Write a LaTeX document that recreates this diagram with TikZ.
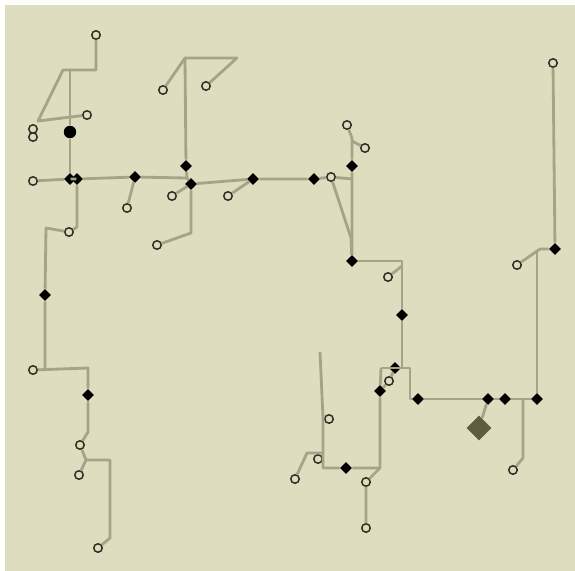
\documentclass[tikz,border=0pt]{standalone}
\usetikzlibrary{shapes.geometric}
\definecolor{sand}{RGB}{223,221,192}
\definecolor{pipe}{RGB}{166,164,134}
\definecolor{ink}{RGB}{45,45,35}
\definecolor{moss}{RGB}{92,92,62}
\tikzset{
  pipe/.style={draw=pipe,line width=1.6pt,line join=round},
  cons/.style={circle,draw=ink,fill=sand,line width=0.85pt,inner sep=0pt,minimum size=1.7mm},
  junc/.style={diamond,fill=black,inner sep=0pt,minimum size=2.4mm},
  hub/.style={circle,fill=black,inner sep=0pt,minimum size=2.5mm},
  tank/.style={diamond,fill=moss,inner sep=0pt,minimum size=5mm},
}
\begin{document}
\begin{tikzpicture}[x=0.02cm,y=-0.02cm]
  \useasboundingbox (0,0) rectangle (575,571);
  \fill[sand] (5,5) rectangle (575,571);
  % consumers
  \node[cons] (ca) at (96,35) {};  \node[cons] (cb) at (87,115) {};
  \node[cons] (cc1) at (33,129) {}; \node[cons] (cc2) at (33,137) {};
  \node[cons] (cd) at (33,181) {}; \node[cons] (ce) at (163,90) {};
  \node[cons] (cf) at (206,86) {};  \node[cons] (cg) at (127,208) {};
  \node[cons] (ch) at (172,196) {}; \node[cons] (ci) at (157,245) {};
  \node[cons] (cj) at (228,196) {}; \node[cons] (ck) at (69,232) {};
  \node[cons] (cl) at (331,177) {}; \node[cons] (cm) at (347,125) {};
  \node[cons] (cn) at (365,148) {}; \node[cons] (co) at (388,277) {};
  \node[cons] (cp) at (553,63) {};  \node[cons] (cq) at (517,265) {};
  \node[cons] (cr) at (389,381) {}; \node[cons] (cs) at (329,419) {};
  \node[cons] (ct) at (318,459) {}; \node[cons] (cu) at (295,479) {};
  \node[cons] (cv) at (366,482) {}; \node[cons] (cw) at (366,528) {};
  \node[cons] (cx) at (513,470) {}; \node[cons] (cy) at (33,370) {};
  \node[cons] (cz) at (80,445) {};  \node[cons] (cz2) at (79,475) {};
  \node[cons] (cz3) at (98,548) {};
  % junctions
  \node[hub] (ja) at (70,132) {};
  \node[junc] (jb) at (70,179) {};  \node[junc] (jc) at (77,179) {};
  \node[junc] (jd) at (135,177) {}; \node[junc] (je) at (186,166) {};
  \node[junc] (jf) at (191,184) {}; \node[junc] (jg) at (253,179) {};
  \node[junc] (jh) at (314,179) {}; \node[junc] (ji) at (352,166) {};
  \node[junc] (jj) at (352,261) {}; \node[junc] (jk) at (402,315) {};
  \node[junc] (jl) at (395,368) {}; \node[junc] (jm) at (380,391) {};
  \node[junc] (jn) at (418,399) {}; \node[junc] (jo) at (488,399) {};
  \node[junc] (jp) at (505,399) {}; \node[junc] (jq) at (537,399) {};
  \node[junc] (jr) at (555,249) {}; \node[junc] (js) at (346,468) {};
  \node[junc] (jt) at (45,295) {};  \node[junc] (ju) at (88,395) {};
  \node[tank] (src) at (479,428) {};
  % bends
  \coordinate (b1) at (96,70);   \coordinate (b2) at (63,70);   \coordinate (b3) at (38,121);
  \coordinate (b4) at (70,70);   \coordinate (b5) at (185,58);  \coordinate (b6) at (237,58);
  \coordinate (b7) at (191,233); \coordinate (b8) at (352,179); \coordinate (b9) at (352,138);
  \coordinate (b10) at (352,141); \coordinate (b11) at (351,238); \coordinate (b12) at (402,261);
  \coordinate (b13) at (402,368); \coordinate (b14) at (381,368); \coordinate (b15) at (410,368);
  \coordinate (b16) at (410,399); \coordinate (b17) at (402,266); \coordinate (b18) at (380,468);
  \coordinate (b19) at (323,468); \coordinate (b20) at (323,418); \coordinate (b21) at (320,352);
  \coordinate (b22) at (323,453); \coordinate (b23) at (307,453); \coordinate (b24) at (540,249);
  \coordinate (b25) at (537,252); \coordinate (b26) at (523,399); \coordinate (b27) at (523,458);
  \coordinate (b28) at (77,227);  \coordinate (b29) at (46,228);  \coordinate (b30) at (45,368);
  \coordinate (b31) at (88,368);  \coordinate (b32) at (88,432);  \coordinate (b33) at (86,460);
  \coordinate (b34) at (110,460); \coordinate (b35) at (110,538); \coordinate (b36) at (187,178);
  % pipes
  \draw[pipe] (ca) -- (b1) -- (b2) -- (b3) -- (cb);
  \draw[pipe] (b4) -- (ja) -- (jb);
  \draw[pipe] (cd) -- (jb) -- (jc) -- (jd) -- (b36);
  \draw[pipe] (ce) -- (b5) -- (b6) -- (cf);
  \draw[pipe] (b5) -- (je) -- (b36) -- (jf) -- (b7) -- (ci);
  \draw[pipe] (cg) -- (jd); \draw[pipe] (ch) -- (jf); \draw[pipe] (cj) -- (jg);
  \draw[pipe] (jf) -- (jg) -- (jh) -- (cl) -- (b8);
  \draw[pipe] (cm) -- (b9) -- (ji) -- (jj); \draw[pipe] (cn) -- (b10);
  \draw[pipe] (cl) -- (b11) -- (jj);
  \draw[pipe] (jj) -- (b12) -- (jk) -- (b13); \draw[pipe] (co) -- (b17);
  \draw[pipe] (b14) -- (b15) -- (b16) -- (jn) -- (jo) -- (jp) -- (jq);
  \draw[pipe] (jl) -- (cr) -- (jm);
  \draw[pipe] (b14) -- (jm) -- (b18) -- (js) -- (b19) -- (b20) -- (b21);
  \draw[pipe] (b22) -- (b23) -- (cu);
  \draw[pipe] (b18) -- (cv) -- (cw);
  \draw[pipe] (cp) -- (jr) -- (b24) -- (cq); \draw[pipe] (b25) -- (jq);
  \draw[pipe] (jo) -- (src);
  \draw[pipe] (b26) -- (b27) -- (cx);
  \draw[pipe] (jc) -- (b28) -- (ck) -- (b29) -- (jt) -- (b30);
  \draw[pipe] (cy) -- (b31) -- (ju) -- (b32) -- (cz);
  \draw[pipe] (cz) -- (b33) -- (cz2); \draw[pipe] (b33) -- (b34) -- (b35) -- (cz3);
\end{tikzpicture}
\end{document}
